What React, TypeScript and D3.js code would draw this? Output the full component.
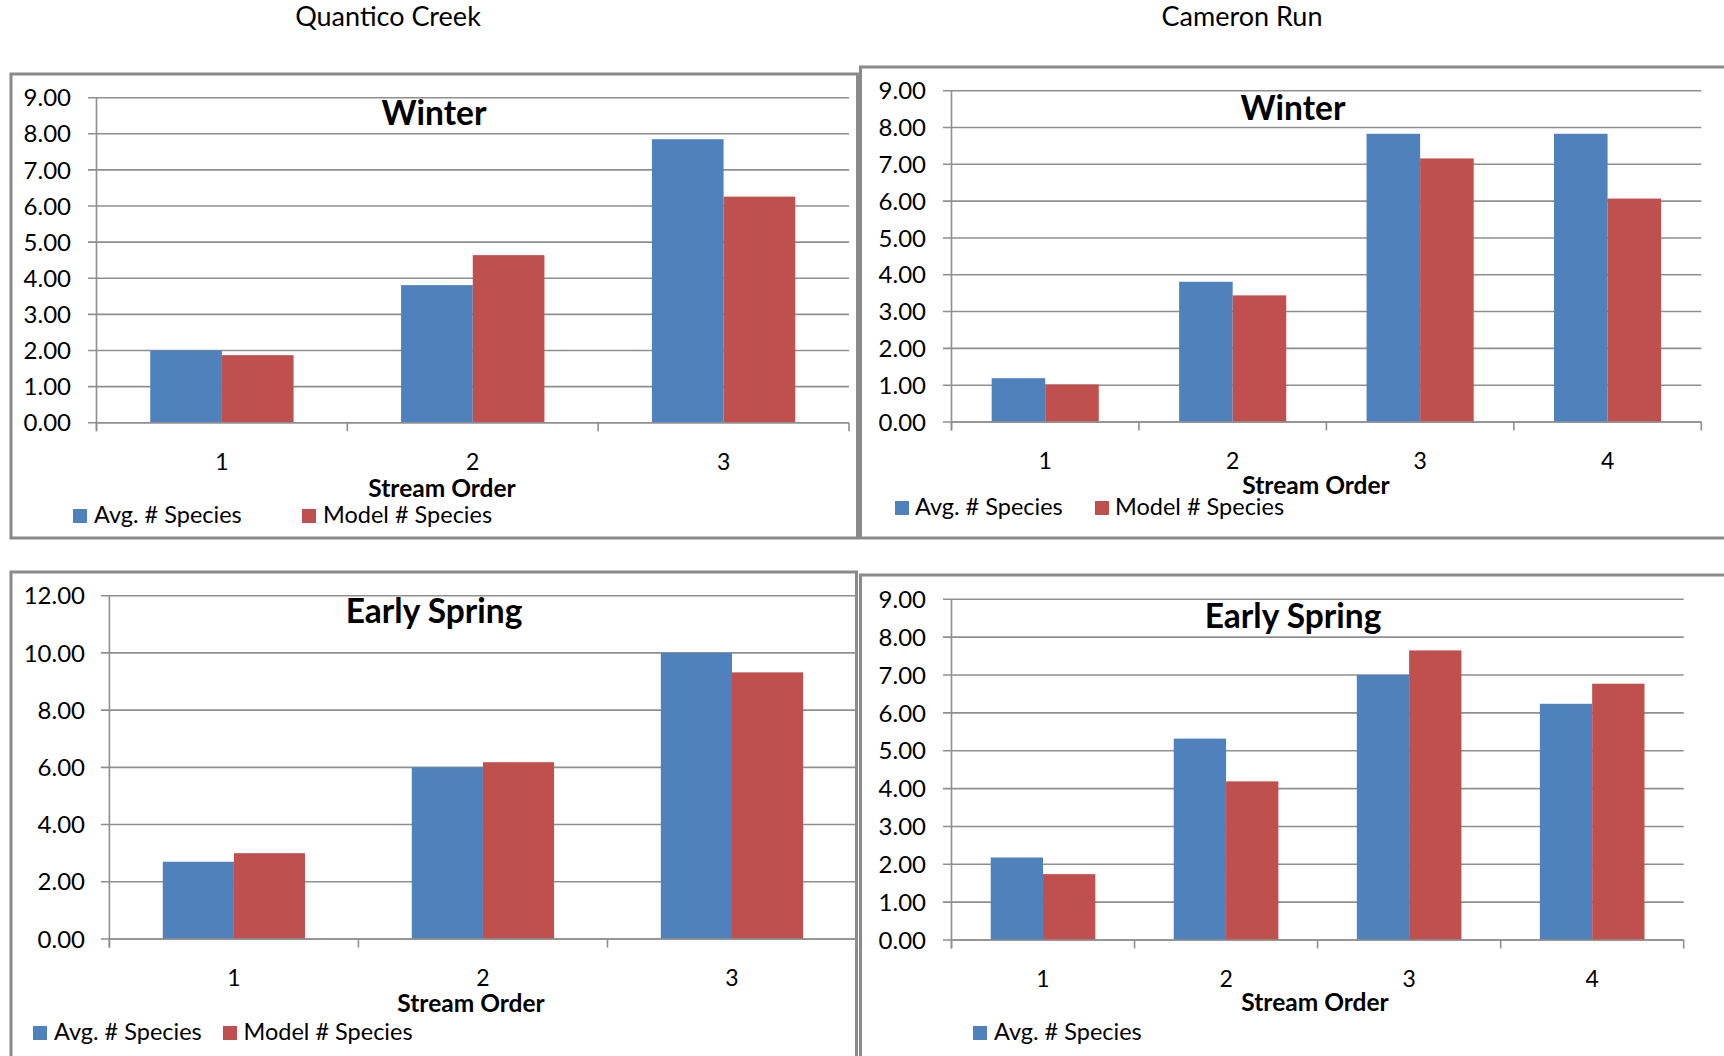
import React from "react";
import * as d3 from "d3";

// Stream orders sampled at each creek
const quanticoOrders = ["1", "2", "3"];
const cameronOrders = ["1", "2", "3", "4"];

// Series names
const seriesNames = ["Avg. # Species", "Model # Species"];
const seriesColors = ["#4F81BD", "#C0504D"];

// Quantico Creek – Winter
const quanticoWinterAvg = [2.0, 3.81, 7.85];
const quanticoWinterModel = [1.87, 4.64, 6.26];

// Cameron Run – Winter
const cameronWinterAvg = [1.19, 3.81, 7.83, 7.83];
const cameronWinterModel = [1.02, 3.44, 7.16, 6.07];

// Quantico Creek – Early Spring
const quanticoSpringAvg = [2.7, 6.0, 10.0];
const quanticoSpringModel = [3.0, 6.18, 9.32];

// Cameron Run – Early Spring
const cameronSpringAvg = [2.18, 5.32, 7.0, 6.24];
const cameronSpringModel = [1.74, 4.19, 7.65, 6.77];

// Value-axis ticks
const ticksNine = [0, 1, 2, 3, 4, 5, 6, 7, 8, 9];
const ticksTwelve = [0, 2, 4, 6, 8, 10, 12];

// Column headings
const creekNames = ["Quantico Creek", "Cameron Run"];
const seasonNames = ["Winter", "Early Spring"];
const axisTitle = "Stream Order";

const FONT = "Lato, 'Open Sans', sans-serif";
const GRID = "#8f8f8f";
const BORDER = "#8a8a8a";
const fmt = d3.format(".2f");

type PanelProps = {
  box: { x: number; y: number; w: number; h: number };
  plot: { left: number; right: number; top: number; bottom: number };
  labelRight: number;
  titleX: number;
  titleY: number;
  catLabelY: number;
  axisTitleX: number;
  axisTitleY: number;
  legendY: number;
  legendItems: { square: number; text: number }[];
  title: string;
  categories: string[];
  values: number[][];
  ticks: number[];
};

function Panel(p: PanelProps) {
  const x0 = d3
    .scaleBand<string>()
    .domain(p.categories)
    .range([p.plot.left, p.plot.right])
    .paddingInner(0)
    .paddingOuter(0);
  const x1 = d3
    .scaleBand<number>()
    .domain([0, 1])
    .range([0, x0.bandwidth()])
    .paddingInner(0)
    .paddingOuter(0.75);
  const yMax = p.ticks[p.ticks.length - 1];
  const y = d3.scaleLinear().domain([0, yMax]).range([p.plot.bottom, p.plot.top]);
  const tickLen = 8.5;
  const boundaries = [...p.categories.map((c) => x0(c) as number), p.plot.right];

  return (
    <g>
      <rect
        x={p.box.x}
        y={p.box.y}
        width={p.box.w}
        height={p.box.h}
        fill="#fff"
        stroke={BORDER}
        strokeWidth={3}
      />
      {/* gridlines and value labels */}
      {p.ticks.map((t) => (
        <g key={t}>
          <line
            x1={p.plot.left - tickLen}
            x2={p.plot.right}
            y1={y(t)}
            y2={y(t)}
            stroke={GRID}
            strokeWidth={1.6}
          />
          <text
            x={p.labelRight}
            y={y(t)}
            dy="0.36em"
            textAnchor="end"
            fontFamily={FONT}
            fontSize={24}
            fill="#000"
          >
            {fmt(t)}
          </text>
        </g>
      ))}
      {/* bars */}
      {p.categories.map((c, i) => (
        <g key={c}>
          {p.values.map((vals, s) => (
            <rect
              key={s}
              x={(x0(c) as number) + (x1(s) as number)}
              y={y(vals[i])}
              width={x1.bandwidth()}
              height={p.plot.bottom - y(vals[i])}
              fill={seriesColors[s]}
            />
          ))}
        </g>
      ))}
      {/* axes */}
      <line
        x1={p.plot.left}
        x2={p.plot.left}
        y1={p.plot.top}
        y2={p.plot.bottom + tickLen}
        stroke={GRID}
        strokeWidth={1.6}
      />
      <line
        x1={p.plot.left}
        x2={p.plot.right}
        y1={p.plot.bottom}
        y2={p.plot.bottom}
        stroke={GRID}
        strokeWidth={1.6}
      />
      {boundaries.map((bx, i) => (
        <line
          key={i}
          x1={bx}
          x2={bx}
          y1={p.plot.bottom}
          y2={p.plot.bottom + tickLen}
          stroke={GRID}
          strokeWidth={1.6}
        />
      ))}
      {p.categories.map((c) => (
        <text
          key={c}
          x={(x0(c) as number) + x0.bandwidth() / 2}
          y={p.catLabelY}
          textAnchor="middle"
          fontFamily={FONT}
          fontSize={23}
          fill="#000"
        >
          {c}
        </text>
      ))}
      <text
        x={p.axisTitleX}
        y={p.axisTitleY}
        textAnchor="middle"
        fontFamily={FONT}
        fontWeight="bold"
        fontSize={24.5}
        fill="#000"
      >
        {axisTitle}
      </text>
      <text
        x={p.titleX}
        y={p.titleY}
        textAnchor="middle"
        fontFamily={FONT}
        fontWeight="bold"
        fontSize={33.5}
        fill="#000"
      >
        {p.title}
      </text>
      {/* legend */}
      {p.legendItems.map((item, s) => (
        <g key={s}>
          <rect
            x={item.square}
            y={p.legendY - 14}
            width={14}
            height={14}
            fill={seriesColors[s]}
          />
          <text
            x={item.text}
            y={p.legendY}
            fontFamily={FONT}
            fontSize={23.5}
            fill="#000"
          >
            {seriesNames[s]}
          </text>
        </g>
      ))}
    </g>
  );
}

export default function App() {
  return (
    <svg
      width={1724}
      height={1056}
      style={{ position: "absolute", left: 0, top: 0, display: "block", background: "#fff" }}
    >
      <rect x={0} y={0} width={1724} height={1056} fill="#fff" />
      <text x={388} y={26} textAnchor="middle" fontFamily={FONT} fontSize={27} fill="#000">
        {creekNames[0]}
      </text>
      <text x={1242} y={26} textAnchor="middle" fontFamily={FONT} fontSize={27} fill="#000">
        {creekNames[1]}
      </text>

      <Panel
        box={{ x: 11, y: 74, w: 846.5, h: 464 }}
        plot={{ left: 96.5, right: 849, top: 97.7, bottom: 422.7 }}
        labelRight={71}
        titleX={434}
        titleY={125}
        catLabelY={470}
        axisTitleX={442}
        axisTitleY={496.5}
        legendY={523}
        legendItems={[
          { square: 73, text: 94 },
          { square: 302, text: 323 },
        ]}
        title={seasonNames[0]}
        categories={quanticoOrders}
        values={[quanticoWinterAvg, quanticoWinterModel]}
        ticks={ticksNine}
      />
      <Panel
        box={{ x: 860.5, y: 67, w: 900, h: 471 }}
        plot={{ left: 951.5, right: 1701.3, top: 90.7, bottom: 422 }}
        labelRight={926}
        titleX={1293}
        titleY={120}
        catLabelY={469}
        axisTitleX={1316}
        axisTitleY={494}
        legendY={515}
        legendItems={[
          { square: 895, text: 915 },
          { square: 1095, text: 1115 },
        ]}
        title={seasonNames[0]}
        categories={cameronOrders}
        values={[cameronWinterAvg, cameronWinterModel]}
        ticks={ticksNine}
      />
      <Panel
        box={{ x: 11, y: 572, w: 845.5, h: 520 }}
        plot={{ left: 109.4, right: 856.5, top: 595.7, bottom: 939 }}
        labelRight={85}
        titleX={434}
        titleY={623}
        catLabelY={986}
        axisTitleX={471}
        axisTitleY={1012}
        legendY={1040}
        legendItems={[
          { square: 33, text: 54 },
          { square: 223, text: 243.5 },
        ]}
        title={seasonNames[1]}
        categories={quanticoOrders}
        values={[quanticoSpringAvg, quanticoSpringModel]}
        ticks={ticksTwelve}
      />
      <Panel
        box={{ x: 860.5, y: 575, w: 900, h: 520 }}
        plot={{ left: 951.5, right: 1683.7, top: 599.3, bottom: 940 }}
        labelRight={926}
        titleX={1293}
        titleY={627.5}
        catLabelY={986.5}
        axisTitleX={1315}
        axisTitleY={1010.5}
        legendY={1040}
        legendItems={[{ square: 973, text: 994 }]}
        title={seasonNames[1]}
        categories={cameronOrders}
        values={[cameronSpringAvg, cameronSpringModel]}
        ticks={ticksNine}
      />
    </svg>
  );
}
